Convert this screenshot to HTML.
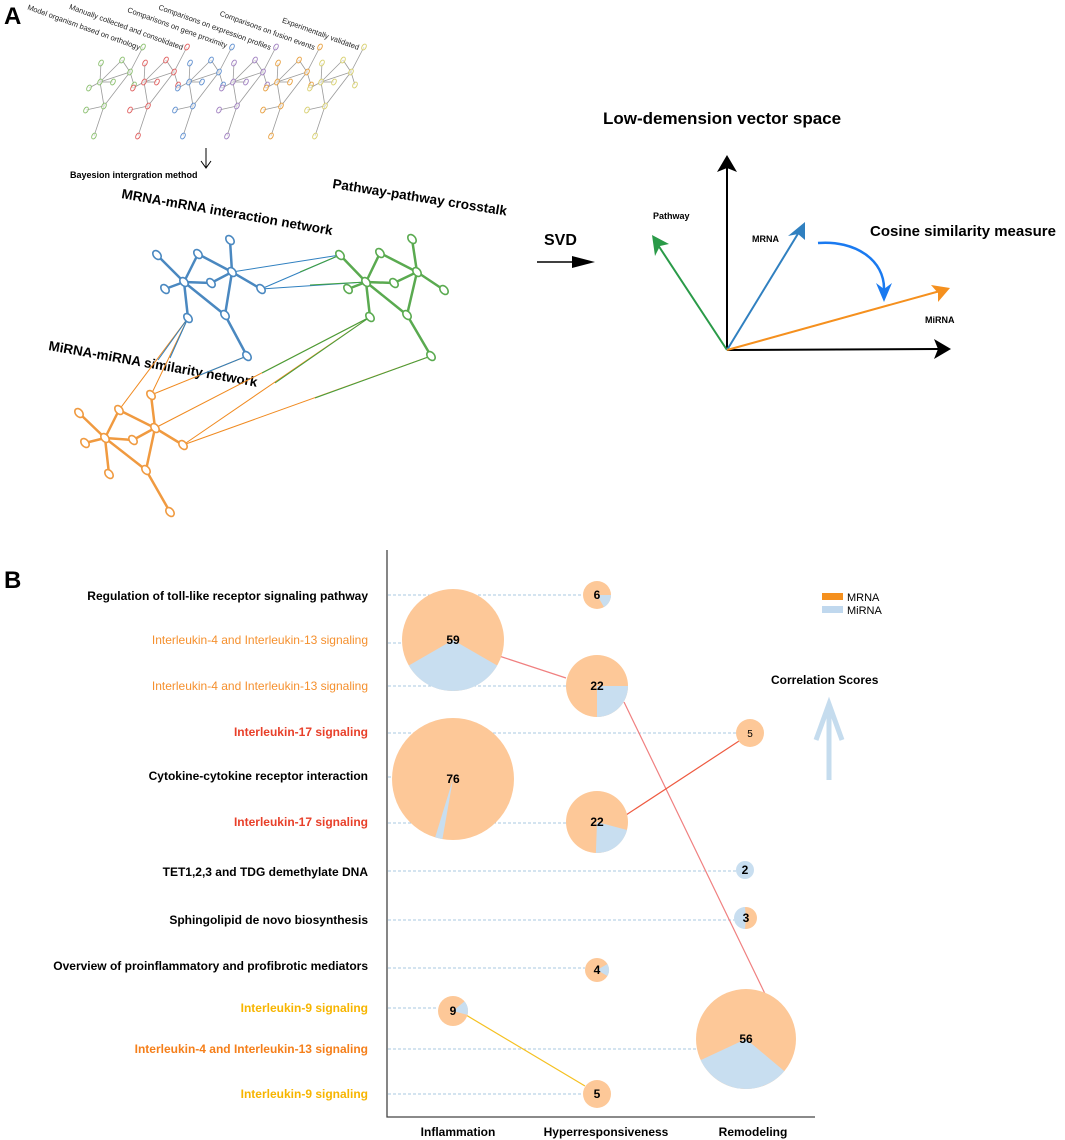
<!DOCTYPE html>
<html><head><meta charset="utf-8"><style>
html,body{margin:0;padding:0;background:#fff}
svg{display:block;font-family:"Liberation Sans",Arial,sans-serif}
</style></head><body>
<svg width="1065" height="1140" viewBox="0 0 1065 1140" xmlns="http://www.w3.org/2000/svg">
<defs>
<symbol id="tn" overflow="visible">
<g stroke="#9a9a9a" stroke-width="0.8" fill="none">
<line x1="143" y1="47" x2="130" y2="72"/><line x1="130" y1="72" x2="134" y2="85"/>
<line x1="101" y1="63" x2="100" y2="82"/><line x1="122" y1="60" x2="130" y2="72"/>
<line x1="130" y1="72" x2="100" y2="82"/><line x1="100" y1="82" x2="113" y2="82"/>
<line x1="100" y1="82" x2="89" y2="88"/><line x1="100" y1="82" x2="104" y2="106"/>
<line x1="104" y1="106" x2="94" y2="136"/><line x1="104" y1="106" x2="86" y2="110"/>
<line x1="130" y1="72" x2="104" y2="106"/><line x1="122" y1="60" x2="100" y2="82"/>
</g>
<g stroke="currentColor" stroke-width="0.9" fill="#fff" fill-opacity="0.6">
<ellipse cx="143" cy="47" rx="2" ry="3.2" transform="rotate(30 143 47)"/>
<ellipse cx="101" cy="63" rx="2" ry="3.2" transform="rotate(30 101 63)"/>
<ellipse cx="122" cy="60" rx="2" ry="3.2" transform="rotate(30 122 60)"/>
<ellipse cx="130" cy="72" rx="2" ry="3.2" transform="rotate(30 130 72)"/>
<ellipse cx="100" cy="82" rx="2" ry="3.2" transform="rotate(30 100 82)"/>
<ellipse cx="113" cy="82" rx="2" ry="3.2" transform="rotate(30 113 82)"/>
<ellipse cx="89" cy="88" rx="2" ry="3.2" transform="rotate(30 89 88)"/>
<ellipse cx="134" cy="85" rx="2" ry="3.2" transform="rotate(30 134 85)"/>
<ellipse cx="104" cy="106" rx="2" ry="3.2" transform="rotate(30 104 106)"/>
<ellipse cx="86" cy="110" rx="2" ry="3.2" transform="rotate(30 86 110)"/>
<ellipse cx="94" cy="136" rx="2" ry="3.2" transform="rotate(30 94 136)"/>
</g>
</symbol>
</defs>

<text x="4" y="24" font-size="24" font-weight="bold">A</text>
<text x="4" y="588" font-size="24" font-weight="bold">B</text>

<use href="#tn" x="0" y="0" color="#8cc070"/>
<use href="#tn" x="44" y="0" color="#e06060"/>
<use href="#tn" x="89" y="0" color="#6090d0"/>
<use href="#tn" x="133" y="0" color="#a080c0"/>
<use href="#tn" x="177" y="0" color="#e8a040"/>
<use href="#tn" x="221" y="0" color="#d8d070"/>
<g font-size="7.5" fill="#222">
<text transform="translate(139,50) rotate(20)" text-anchor="end">Model organism based on orthology</text>
<text transform="translate(182,50) rotate(20)" text-anchor="end">Manually collected and consolidated</text>
<text transform="translate(226,48) rotate(20)" text-anchor="end">Comparisons on gene proximity</text>
<text transform="translate(270,50) rotate(20)" text-anchor="end">Comparisons on expression profiles</text>
<text transform="translate(314,50) rotate(20)" text-anchor="end">Comparisons on fusion events</text>
<text transform="translate(358,50) rotate(20)" text-anchor="end">Experimentally validated</text>
</g>
<line x1="206" y1="148" x2="206" y2="167" stroke="#000" stroke-width="1"/>
<path d="M201,161 L206,168 L211,161" fill="none" stroke="#000" stroke-width="1"/>
<text x="70" y="178" font-size="9" font-weight="bold">Bayesion intergration method</text>

<g font-size="13.5" font-weight="bold">
<text transform="translate(121,198) rotate(10)">MRNA-mRNA interaction network</text>
<text transform="translate(332,188) rotate(9)">Pathway-pathway crosstalk</text>
<text transform="translate(48,350) rotate(10)">MiRNA-miRNA similarity network</text>
</g>

<g stroke-width="1" fill="none">
<line x1="232" y1="272" x2="340" y2="255" stroke="#3080c0"/>
<line x1="261" y1="289" x2="340" y2="255" stroke="#3080c0"/>
<line x1="261" y1="289" x2="366" y2="282" stroke="#3080c0"/>
<line x1="300" y1="272" x2="340" y2="255" stroke="#40a040"/>
<line x1="310" y1="285" x2="366" y2="282" stroke="#40a040"/>
<line x1="188" y1="318" x2="119" y2="410" stroke="#f08a20"/>
<line x1="188" y1="318" x2="151" y2="395" stroke="#f08a20"/>
<line x1="188" y1="318" x2="158" y2="360" stroke="#3080c0"/>
<line x1="188" y1="318" x2="170" y2="358" stroke="#3080c0"/>
<line x1="247" y1="356" x2="151" y2="395" stroke="#f08a20"/>
<line x1="247" y1="356" x2="200" y2="375" stroke="#3080c0"/>
<line x1="370" y1="317" x2="155" y2="428" stroke="#f08a20"/>
<line x1="370" y1="317" x2="183" y2="445" stroke="#f08a20"/>
<line x1="431" y1="356" x2="183" y2="445" stroke="#f08a20"/>
<line x1="370" y1="317" x2="262" y2="373" stroke="#40a040"/>
<line x1="370" y1="317" x2="275" y2="383" stroke="#40a040"/>
<line x1="431" y1="356" x2="315" y2="398" stroke="#40a040"/>
</g>

<g stroke="#4a88c0" stroke-width="2.5" fill="none">
<path d="M157,255 L184,282 M198,254 L184,282 M198,254 L232,272 M230,240 L232,272 M184,282 L211,283 L232,272 L261,289 M184,282 L165,289 M184,282 L188,318 M184,282 L225,315 L232,272 M225,315 L247,356"/>
</g>
<g stroke="#4a88c0" stroke-width="1.6" fill="#fff">
<ellipse cx="157" cy="255" rx="5" ry="3.5" transform="rotate(50 157 255)"/><ellipse cx="198" cy="254" rx="5" ry="3.5" transform="rotate(50 198 254)"/><ellipse cx="230" cy="240" rx="5" ry="3.5" transform="rotate(50 230 240)"/><ellipse cx="232" cy="272" rx="5" ry="3.5" transform="rotate(50 232 272)"/><ellipse cx="184" cy="282" rx="5" ry="3.5" transform="rotate(50 184 282)"/><ellipse cx="211" cy="283" rx="5" ry="3.5" transform="rotate(50 211 283)"/><ellipse cx="165" cy="289" rx="5" ry="3.5" transform="rotate(50 165 289)"/><ellipse cx="261" cy="289" rx="5" ry="3.5" transform="rotate(50 261 289)"/><ellipse cx="188" cy="318" rx="5" ry="3.5" transform="rotate(50 188 318)"/><ellipse cx="225" cy="315" rx="5" ry="3.5" transform="rotate(50 225 315)"/><ellipse cx="247" cy="356" rx="5" ry="3.5" transform="rotate(50 247 356)"/>
</g>
<g stroke="#5aaa50" stroke-width="2.5" fill="none">
<path d="M340,255 L366,282 M380,253 L366,282 M380,253 L417,272 M412,239 L417,272 M366,282 L394,283 L417,272 L444,290 M366,282 L348,289 M366,282 L370,317 M366,282 L407,315 L417,272 M407,315 L431,356"/>
</g>
<g stroke="#5aaa50" stroke-width="1.6" fill="#fff">
<ellipse cx="340" cy="255" rx="5" ry="3.5" transform="rotate(50 340 255)"/><ellipse cx="380" cy="253" rx="5" ry="3.5" transform="rotate(50 380 253)"/><ellipse cx="412" cy="239" rx="5" ry="3.5" transform="rotate(50 412 239)"/><ellipse cx="417" cy="272" rx="5" ry="3.5" transform="rotate(50 417 272)"/><ellipse cx="366" cy="282" rx="5" ry="3.5" transform="rotate(50 366 282)"/><ellipse cx="394" cy="283" rx="5" ry="3.5" transform="rotate(50 394 283)"/><ellipse cx="348" cy="289" rx="5" ry="3.5" transform="rotate(50 348 289)"/><ellipse cx="444" cy="290" rx="5" ry="3.5" transform="rotate(50 444 290)"/><ellipse cx="370" cy="317" rx="5" ry="3.5" transform="rotate(50 370 317)"/><ellipse cx="407" cy="315" rx="5" ry="3.5" transform="rotate(50 407 315)"/><ellipse cx="431" cy="356" rx="5" ry="3.5" transform="rotate(50 431 356)"/>
</g>
<g stroke="#f09a40" stroke-width="2.5" fill="none">
<path d="M79,413 L105,438 M119,410 L105,438 M119,410 L155,428 M151,395 L155,428 M105,438 L133,440 L155,428 L183,445 M105,438 L85,443 M105,438 L109,474 M105,438 L146,470 L155,428 M146,470 L170,512"/>
</g>
<g stroke="#f09a40" stroke-width="1.6" fill="#fff">
<ellipse cx="79" cy="413" rx="5" ry="3.5" transform="rotate(50 79 413)"/><ellipse cx="119" cy="410" rx="5" ry="3.5" transform="rotate(50 119 410)"/><ellipse cx="151" cy="395" rx="5" ry="3.5" transform="rotate(50 151 395)"/><ellipse cx="155" cy="428" rx="5" ry="3.5" transform="rotate(50 155 428)"/><ellipse cx="105" cy="438" rx="5" ry="3.5" transform="rotate(50 105 438)"/><ellipse cx="133" cy="440" rx="5" ry="3.5" transform="rotate(50 133 440)"/><ellipse cx="85" cy="443" rx="5" ry="3.5" transform="rotate(50 85 443)"/><ellipse cx="183" cy="445" rx="5" ry="3.5" transform="rotate(50 183 445)"/><ellipse cx="109" cy="474" rx="5" ry="3.5" transform="rotate(50 109 474)"/><ellipse cx="146" cy="470" rx="5" ry="3.5" transform="rotate(50 146 470)"/><ellipse cx="170" cy="512" rx="5" ry="3.5" transform="rotate(50 170 512)"/>
</g>

<text x="544" y="245" font-size="16" font-weight="bold">SVD</text>
<line x1="537" y1="262" x2="578" y2="262" stroke="#000" stroke-width="1.5"/>
<path d="M572,256 L595,262 L572,268 Z" fill="#000"/>
<text x="603" y="124" font-size="17" font-weight="bold">Low-demension vector space</text>
<g stroke-width="2" fill="none">
<line x1="727" y1="350" x2="727" y2="168" stroke="#000"/>
<line x1="727" y1="350" x2="938" y2="349" stroke="#000"/>
<line x1="727" y1="350" x2="658" y2="245" stroke="#2a9a48"/>
<line x1="727" y1="350" x2="799" y2="232" stroke="#3080c0"/>
<line x1="727" y1="350" x2="940" y2="291" stroke="#f5901e"/>
<path d="M818,243 C855,240 885,260 884,290" stroke="#1a7af0" stroke-width="2.5"/>
</g>
<path d="M727,155 L737,172 L727,168 L717,172 Z" fill="#000"/>
<path d="M951,349 L934,359 L938,349 L934,339 Z" fill="#000"/>
<path d="M652,235 L669,244 L660,246 L655,256 Z" fill="#2a9a48"/>
<path d="M805,222 L805,240 L798,234 L788,236 Z" fill="#3080c0"/>
<path d="M950,288 L938,302 L938,293 L931,285 Z" fill="#f5901e"/>
<path d="M884,302 L876,283 L884,289 L892,283 Z" fill="#1a7af0"/>
<text x="653" y="219" font-size="9" font-weight="bold">Pathway</text>
<text x="752" y="242" font-size="9" font-weight="bold">MRNA</text>
<text x="925" y="323" font-size="9" font-weight="bold">MiRNA</text>
<text x="870" y="236" font-size="15" font-weight="bold">Cosine similarity measure</text>

<g stroke="#a8c8e2" stroke-width="1" stroke-dasharray="3,2">
<line x1="388" y1="595" x2="583" y2="595"/>
<line x1="388" y1="643" x2="402" y2="643"/>
<line x1="388" y1="686" x2="566" y2="686"/>
<line x1="388" y1="733" x2="736" y2="733"/>
<line x1="388" y1="777" x2="392" y2="777"/>
<line x1="388" y1="823" x2="566" y2="823"/>
<line x1="388" y1="871" x2="736" y2="871"/>
<line x1="388" y1="920" x2="735" y2="920"/>
<line x1="388" y1="968" x2="585" y2="968"/>
<line x1="388" y1="1008" x2="438" y2="1008"/>
<line x1="388" y1="1049" x2="696" y2="1049"/>
<line x1="388" y1="1094" x2="583" y2="1094"/>
</g>
<path d="M387,550 L387,1117 L815,1117" fill="none" stroke="#444" stroke-width="1.3"/>

<g stroke-width="1.2" fill="none">
<line x1="496" y1="655" x2="566" y2="678" stroke="#f08080"/>
<line x1="624" y1="702" x2="768" y2="1000" stroke="#f08080"/>
<line x1="626" y1="815" x2="739" y2="741" stroke="#ee5a40"/>
<line x1="466" y1="1015" x2="585" y2="1086" stroke="#f5c020"/>
</g>

<g fill="#fdc898">
<circle cx="597" cy="595" r="14"/>
<circle cx="453" cy="640" r="51"/>
<circle cx="597" cy="686" r="31"/>
<circle cx="750" cy="733" r="14"/>
<circle cx="453" cy="779" r="61"/>
<circle cx="597" cy="822" r="31"/>
<circle cx="746" cy="918" r="11"/>
<circle cx="597" cy="970" r="12"/>
<circle cx="453" cy="1011" r="15"/>
<circle cx="746" cy="1039" r="50"/>
<circle cx="597" cy="1094" r="14"/>
</g>
<g fill="#c8def0">
<path d="M597,595 L611,595 A14,14 0 0 1 604,607.1 Z"/>
<path d="M453,640 L497.2,665.5 A51,51 0 0 1 408.8,665.5 Z"/>
<path d="M597,686 L628,686 A31,31 0 0 1 597,717 Z"/>
<path d="M453,779 L442.4,839.1 A61,61 0 0 1 435.2,837.3 Z"/>
<path d="M597,822 L627,830 A31,31 0 0 1 595.9,853 Z"/>
<circle cx="745" cy="870" r="9"/>
<path d="M746,918 L745,929 A11,11 0 0 1 745,907 Z"/>
<path d="M597,970 L607.4,964 A12,12 0 0 1 607.4,976 Z"/>
<path d="M453,1011 L464.5,1001.4 A15,15 0 0 1 467.5,1014.9 Z"/>
<path d="M746,1039 L784.3,1071.1 A50,50 0 0 1 700.7,1060.1 Z"/>
</g>
<g font-size="12" font-weight="bold" text-anchor="middle">
<text x="597" y="599">6</text>
<text x="453" y="644">59</text>
<text x="597" y="690">22</text>
<text x="750" y="737" font-weight="normal" font-size="10">5</text>
<text x="453" y="783">76</text>
<text x="597" y="826">22</text>
<text x="745" y="874">2</text>
<text x="746" y="922">3</text>
<text x="597" y="974">4</text>
<text x="453" y="1015">9</text>
<text x="746" y="1043">56</text>
<text x="597" y="1098">5</text>
</g>

<g font-size="12" font-weight="bold" text-anchor="end">
<text x="368" y="600">Regulation of toll-like receptor signaling pathway</text>
<text x="368" y="644" fill="#f5902e" font-weight="normal">Interleukin-4 and Interleukin-13 signaling</text>
<text x="368" y="690" fill="#f5902e" font-weight="normal">Interleukin-4 and Interleukin-13 signaling</text>
<text x="368" y="736" fill="#e8402a">Interleukin-17 signaling</text>
<text x="368" y="780">Cytokine-cytokine receptor interaction</text>
<text x="368" y="826" fill="#e8402a">Interleukin-17 signaling</text>
<text x="368" y="876">TET1,2,3 and TDG demethylate DNA</text>
<text x="368" y="924">Sphingolipid de novo biosynthesis</text>
<text x="368" y="970">Overview of proinflammatory and profibrotic mediators</text>
<text x="368" y="1012" fill="#f7b500">Interleukin-9 signaling</text>
<text x="368" y="1053" fill="#f57f1a">Interleukin-4 and Interleukin-13 signaling</text>
<text x="368" y="1098" fill="#f7b500">Interleukin-9 signaling</text>
</g>
<g font-size="12" font-weight="bold" text-anchor="middle">
<text x="458" y="1136">Inflammation</text>
<text x="606" y="1136">Hyperresponsiveness</text>
<text x="753" y="1136">Remodeling</text>
</g>

<rect x="822" y="593" width="21" height="7" fill="#f5901e"/>
<rect x="822" y="606" width="21" height="7" fill="#c0d8ee"/>
<text x="847" y="601" font-size="11">MRNA</text>
<text x="847" y="614" font-size="11">MiRNA</text>
<text x="771" y="684" font-size="12" font-weight="bold">Correlation Scores</text>
<g stroke="#c5dcee" stroke-width="5" fill="none" stroke-linecap="butt">
<line x1="829" y1="704" x2="829" y2="780"/>
<path d="M816,740 L829,704 L842,740"/>
</g>
</svg>
</body></html>
